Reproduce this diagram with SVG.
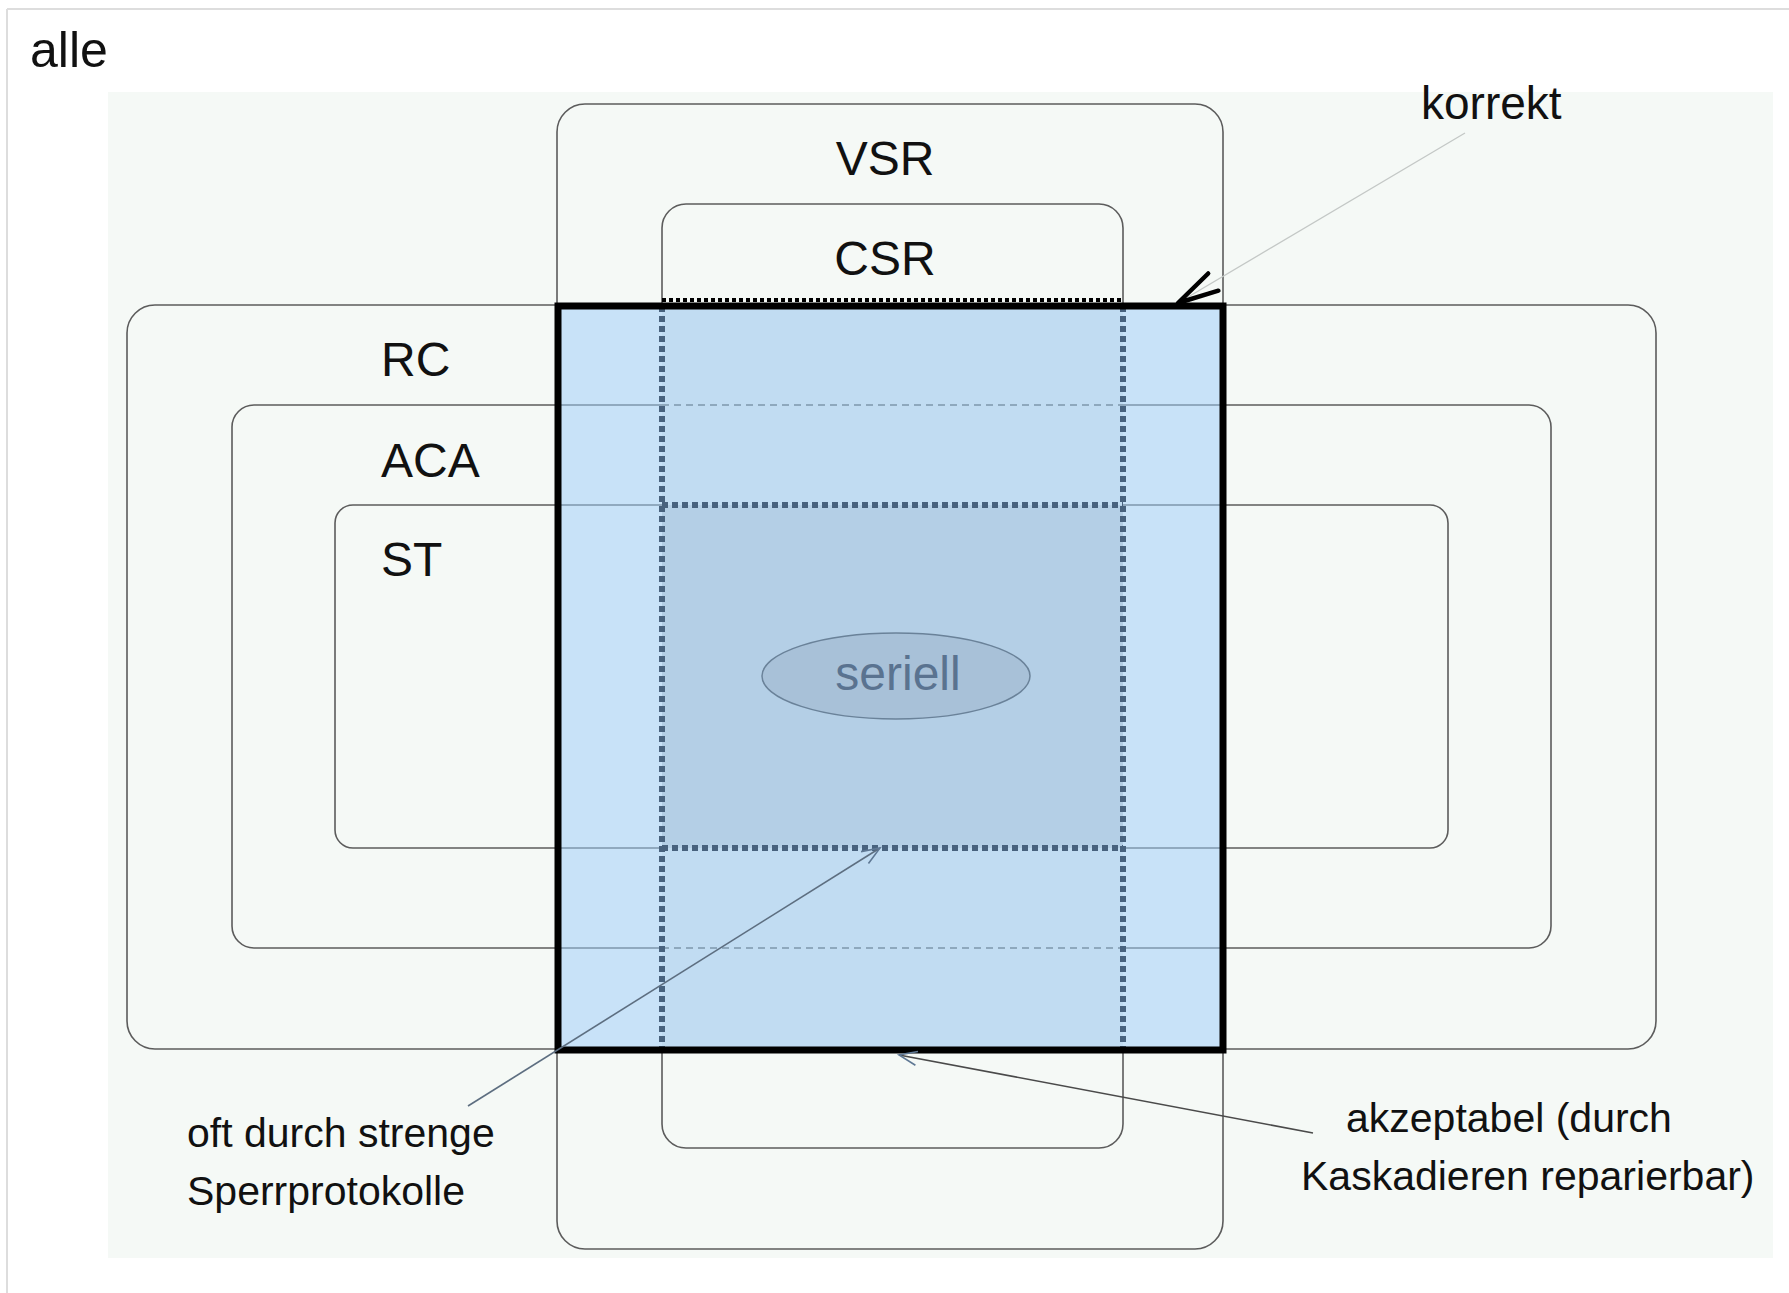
<svg xmlns="http://www.w3.org/2000/svg" width="1789" height="1293" viewBox="0 0 1789 1293">
<style>
  .box{fill:none;stroke:#5c5c5c;stroke-width:1.6}
  .lbl{font-family:"Liberation Sans",Arial,sans-serif;fill:#111}
  .big{font-size:48px}
  .note{font-size:41px}
  .dot{fill:none;stroke:#48627e;stroke-width:6;stroke-dasharray:6 4}
  .thin{stroke:#7d96ac;stroke-width:1.4;fill:none}
  .dash{stroke:#7d96ac;stroke-width:1.4;fill:none;stroke-dasharray:7 5}
</style>
<defs>
  <marker id="arrBlack" markerUnits="userSpaceOnUse" markerWidth="60" markerHeight="40" refX="0" refY="0" viewBox="-50 -20 60 40" orient="auto" overflow="visible">
    <path d="M-41,-10 L0,0 L-41,10" fill="none" stroke="#000" stroke-width="4.5" stroke-linecap="round" stroke-linejoin="round"/>
  </marker>
  <marker id="arrGrey" markerUnits="userSpaceOnUse" markerWidth="30" markerHeight="20" refX="0" refY="0" viewBox="-25 -10 30 20" orient="auto" overflow="visible">
    <path d="M-18,-7 L0,0 L-18,7" fill="none" stroke="#5f7894" stroke-width="1.6"/>
  </marker>
</defs>

<!-- page frame -->
<g id="frame">
  <line x1="7" y1="9" x2="1789" y2="9" stroke="#dddddd" stroke-width="2"/>
  <line x1="7" y1="9" x2="7" y2="1293" stroke="#dddddd" stroke-width="2"/>
  <rect x="108" y="92" width="1665" height="1166" fill="#f5f9f6"/>
</g>

<g id="alle"><text class="lbl" x="30" y="67" font-size="50">alle</text></g>

<g id="VSR">
  <rect class="box" x="557" y="104" width="666" height="1145" rx="28"/>
  <text class="lbl big" x="885" y="175" text-anchor="middle">VSR</text>
</g>
<g id="CSR">
  <rect class="box" x="662" y="204" width="461" height="944" rx="24"/>
  <text class="lbl big" x="885" y="275" text-anchor="middle">CSR</text>
</g>
<g id="RC">
  <rect class="box" x="127" y="305" width="1529" height="744" rx="28"/>
  <text class="lbl big" x="381" y="376">RC</text>
</g>
<g id="ACA">
  <rect class="box" x="232" y="405" width="1319" height="543" rx="22"/>
  <text class="lbl big" x="381" y="477">ACA</text>
</g>
<g id="ST">
  <rect class="box" x="335" y="505" width="1113" height="343" rx="18"/>
  <text class="lbl big" x="381" y="576">ST</text>
</g>

<!-- correct region -->
<g id="correct">
  <rect x="558" y="306" width="665" height="744" fill="#c8e2f8"/>
  <rect x="662" y="306" width="461" height="744" fill="#c1dcf2"/>
  <rect x="662" y="505" width="461" height="343" fill="#b4cfe6"/>
  <path class="thin" d="M558,405 H662 M1123,405 H1223 M558,948 H662 M1123,948 H1223 M558,505 H662 M1123,505 H1223 M558,848 H662 M1123,848 H1223"/>
  <path class="dash" d="M662,405 H1123 M662,948 H1123"/>
  <path class="dot" d="M662,306 V1050 M1123,306 V1050"/>
  <path class="dot" d="M662,505 H1123 M662,848 H1123"/>
  <rect x="558" y="306" width="665" height="744" fill="none" stroke="#000" stroke-width="7"/>
  <line x1="662" y1="300" x2="1123" y2="300" stroke="#000" stroke-width="4" stroke-dasharray="4 3"/>
</g>

<g id="seriell">
  <ellipse cx="896" cy="676" rx="134" ry="43" fill="#a8c1d8" stroke="#6a8299" stroke-width="1.5"/>
  <text class="lbl" x="898" y="690" font-size="48" text-anchor="middle" style="fill:#5a7390">seriell</text>
</g>

<g id="connectors">
  <line x1="1465" y1="133" x2="1178" y2="303" stroke="#c4c8c6" stroke-width="1.3" marker-end="url(#arrBlack)"/>
  <line x1="468" y1="1106" x2="880" y2="848" stroke="#5d6e80" stroke-width="1.6" marker-end="url(#arrGrey)"/>
  <line x1="1313" y1="1133" x2="899" y2="1055" stroke="#4a4a4a" stroke-width="1.6" marker-end="url(#arrGrey)"/>
</g>

<g id="korrekt"><text class="lbl" x="1421" y="119" font-size="46">korrekt</text></g>
<g id="oft">
  <text class="lbl note" x="187" y="1147">oft durch strenge</text>
  <text class="lbl note" x="187" y="1205">Sperrprotokolle</text>
</g>
<g id="akzeptabel">
  <text class="lbl note" x="1346" y="1132">akzeptabel (durch</text>
  <text class="lbl note" x="1301" y="1190">Kaskadieren reparierbar)</text>
</g>
</svg>
